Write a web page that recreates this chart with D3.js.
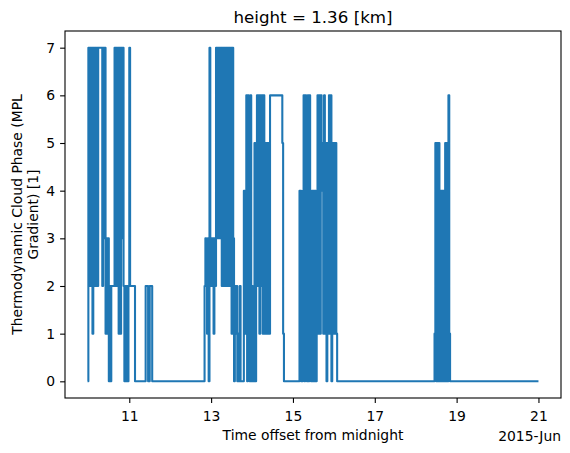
<!DOCTYPE html>
<html>
<head>
<meta charset="utf-8">
<script src="https://cdn.jsdelivr.net/npm/d3@7"></script>
<style>
  html, body { margin: 0; padding: 0; background: #fff; }
  svg { display: block; }
  text { font-family: "DejaVu Sans", sans-serif; fill: #000; }
</style>
</head>
<body>
<div id="chart"></div>
<script>
// cloud phase at 1.36 km, sampled every 0.02 day inside each cloudy burst
const sampleStep = 0.02;
const burstStarts = [9.98, 11.38, 11.48, 12.82, 15.14, 18.44];
const burstCodes = [
  "0727271727" + "2727777727" + "3713130202" + "2227272717" + "1737202020" + "272222220",
  "02220",
  "02220",
  "0232130723" + "2313273737" + "3727272727" + "2727173021" + "2010200004" +
  "1460640602" + "0050262616" + "2616151515" + "1666666666" + "666666510",
  "0440046064" + "0606404040" + "4046161645" + "1615051616" + "05151510",
  "0150505040" + "4040505061" + "0"
];
const lastSample = [21.0, 0];

const tickDays = [11, 13, 15, 17, 19, 21];
const yTicks = [0, 1, 2, 3, 4, 5, 6, 7];

const titleText = "height = 1.36 [km]";
const yLabelLines = ["Thermodynamic Cloud Phase (MPL", "Gradient) [1]"];
const xLabelText = "Time offset from midnight";
const offsetText = "2015-Jun";

const W = 570, H = 453;
const margin = { top: 31, right: 9, bottom: 55, left: 65 };
const plotW = W - margin.left - margin.right;
const plotH = H - margin.top - margin.bottom;
const fs = 13.9;

// June d -> Date
const toDate = d => new Date(Date.UTC(2015, 4, 31) + d * 864e5);

const points = [];
burstStarts.forEach((t0, k) => {
  burstCodes[k].split("").forEach((c, i) => {
    points.push({ t: t0 + i * sampleStep, v: +c });
  });
});
points.push({ t: lastSample[0], v: lastSample[1] });

const svg = d3.select("#chart").append("svg")
  .attr("width", W)
  .attr("height", H);

const g = svg.append("g")
  .attr("transform", `translate(${margin.left},${margin.top})`);

// matplotlib style 5% margins
const tExt = d3.extent(points, d => d.t);
const tPad = (tExt[1] - tExt[0]) * 0.05;
const x = d3.scaleUtc()
  .domain([toDate(tExt[0] - tPad), toDate(tExt[1] + tPad)])
  .range([0, plotW]);

const vExt = d3.extent(points, d => d.v);
const vPad = (vExt[1] - vExt[0]) * 0.05;
const y = d3.scaleLinear()
  .domain([vExt[0] - vPad, vExt[1] + vPad])
  .range([plotH, 0]);

// the series (samples are dense, so each change is a vertical jump)
const line = d3.line()
  .curve(d3.curveStepAfter)
  .x(d => x(toDate(d.t)))
  .y(d => y(d.v));

g.append("path")
  .datum(points)
  .attr("fill", "none")
  .attr("stroke", "#1f77b4")
  .attr("stroke-width", 2.08)
  .attr("stroke-linejoin", "round")
  .attr("d", line);

// axes
const xAxis = g.append("g")
  .attr("transform", `translate(0,${plotH})`)
  .call(d3.axisBottom(x)
    .tickValues(tickDays.map(toDate))
    .tickFormat(d3.utcFormat("%-d"))
    .tickSize(4.9)
    .tickPadding(4.9)
    .tickSizeOuter(0));

const yAxis = g.append("g")
  .call(d3.axisLeft(y)
    .tickValues(yTicks)
    .tickSize(4.9)
    .tickPadding(4.9)
    .tickSizeOuter(0));

[xAxis, yAxis].forEach(a => {
  a.select(".domain").remove();
  a.selectAll(".tick line").attr("stroke", "#000").attr("stroke-width", 1.1);
  a.selectAll(".tick text")
    .attr("font-family", "DejaVu Sans")
    .attr("font-size", fs)
    .attr("fill", "#000");
});
xAxis.selectAll(".tick text").attr("dy", "0.95em");

// frame
g.append("rect")
  .attr("x", 0).attr("y", 0)
  .attr("width", plotW).attr("height", plotH)
  .attr("fill", "none")
  .attr("stroke", "#000")
  .attr("stroke-width", 1.1);

// title
g.append("text")
  .attr("x", plotW / 2)
  .attr("y", -8.5)
  .attr("text-anchor", "middle")
  .attr("font-size", 16.7)
  .text(titleText);

// x label and date offset
g.append("text")
  .attr("x", plotW / 2)
  .attr("y", plotH + 42)
  .attr("text-anchor", "middle")
  .attr("font-size", fs)
  .text(xLabelText);

g.append("text")
  .attr("x", plotW)
  .attr("y", plotH + 43)
  .attr("text-anchor", "end")
  .attr("font-size", fs)
  .text(offsetText);

// y label, two lines
yLabelLines.forEach((s, i) => {
  svg.append("text")
    .attr("transform", `translate(${22 + i * 16},${margin.top + plotH / 2}) rotate(-90)`)
    .attr("text-anchor", "middle")
    .attr("font-size", fs)
    .text(s);
});
</script>
</body>
</html>
